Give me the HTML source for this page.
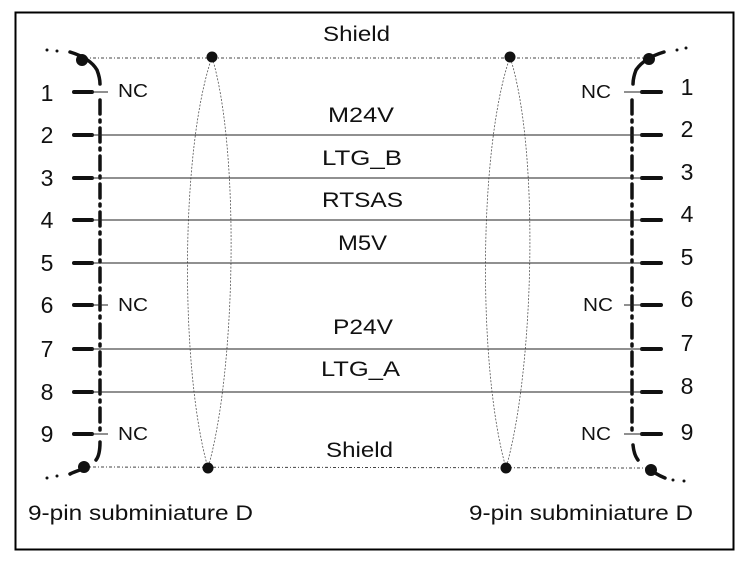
<!DOCTYPE html>
<html><head><style>
body{margin:0;background:#fff}
svg text{font-family:"Liberation Sans",Arial,sans-serif;fill:#111}
</style></head><body>
<svg width="752" height="561" viewBox="0 0 752 561" xmlns="http://www.w3.org/2000/svg">
<rect x="15.5" y="12.5" width="718" height="537" fill="none" stroke="#000" stroke-width="2"/>
<line x1="85" y1="58" x2="650" y2="58" stroke="#444" stroke-width="1" stroke-dasharray="3,2,1,2"/>
<line x1="85" y1="467" x2="650" y2="468" stroke="#444" stroke-width="1" stroke-dasharray="3,2,1,2"/>
<path d="M212,57 C180,150 180,370 208,468 C236,370 240,150 212,57Z" fill="none" stroke="#555" stroke-width="0.8" stroke-dasharray="2,1.5"/>
<path d="M510,57 C478,150 478,370 506,468 C534,370 540,150 510,57Z" fill="none" stroke="#555" stroke-width="0.8" stroke-dasharray="2,1.5"/>
<g fill="#111">
<circle cx="82" cy="60" r="6"/><circle cx="212" cy="57" r="5.5"/><circle cx="510" cy="57" r="5.5"/><circle cx="649" cy="59" r="6"/>
<circle cx="84" cy="467" r="6"/><circle cx="208" cy="468" r="5.5"/><circle cx="506" cy="468" r="5.5"/><circle cx="651" cy="470" r="6"/>
<circle cx="47" cy="50" r="1.5"/><circle cx="57" cy="51" r="1.5"/><circle cx="47" cy="478" r="1.5"/><circle cx="57" cy="476" r="1.5"/>
<circle cx="677" cy="50" r="1.5"/><circle cx="686" cy="48" r="1.5"/><circle cx="673" cy="480" r="1.5"/><circle cx="684" cy="481" r="1.5"/>
</g>
<g fill="none" stroke="#111" stroke-width="3.5" stroke-linecap="round">
<path d="M70,52 Q90,58 97,70 Q100,78 100,84"/>
<line x1="100" y1="100" x2="100" y2="430" stroke-dasharray="14,6,2,6"/>
<path d="M100,442 Q100,455 96,460 M80,470 Q74,472 70,474"/>
<path d="M664,52 Q644,58 636,70 Q633,78 633,84"/>
<line x1="632" y1="100" x2="632" y2="430" stroke-dasharray="14,6,2,6"/>
<path d="M633,445 Q634,455 638,460 M655,473 Q660,476 665,478"/>
</g>
<g stroke="#111" stroke-width="4" stroke-linecap="round">
<line x1="74" y1="92" x2="92" y2="92"/><line x1="74" y1="135" x2="92" y2="135"/><line x1="74" y1="178" x2="92" y2="178"/>
<line x1="74" y1="220" x2="92" y2="220"/><line x1="74" y1="263" x2="92" y2="263"/><line x1="74" y1="305" x2="92" y2="305"/>
<line x1="74" y1="349" x2="92" y2="349"/><line x1="74" y1="392" x2="92" y2="392"/><line x1="74" y1="434" x2="92" y2="434"/>
<line x1="642" y1="92" x2="661" y2="92"/><line x1="642" y1="135" x2="661" y2="135"/><line x1="642" y1="178" x2="661" y2="178"/>
<line x1="642" y1="220" x2="661" y2="220"/><line x1="642" y1="263" x2="661" y2="263"/><line x1="642" y1="305" x2="661" y2="305"/>
<line x1="642" y1="349" x2="661" y2="349"/><line x1="642" y1="392" x2="661" y2="392"/><line x1="642" y1="434" x2="661" y2="434"/>
</g>
<g stroke="#222" stroke-width="1">
<line x1="92" y1="135" x2="642" y2="135"/><line x1="92" y1="178" x2="642" y2="178"/><line x1="92" y1="220" x2="642" y2="220"/>
<line x1="92" y1="263" x2="642" y2="263"/><line x1="92" y1="349" x2="642" y2="349"/><line x1="92" y1="392" x2="642" y2="392"/>
<line x1="92" y1="92" x2="108" y2="92"/><line x1="92" y1="305" x2="108" y2="305"/><line x1="92" y1="434" x2="108" y2="434"/>
<line x1="624" y1="92" x2="642" y2="92"/><line x1="624" y1="305" x2="642" y2="305"/><line x1="624" y1="434" x2="642" y2="434"/>
</g>
<g font-size="23" text-anchor="middle">
<text x="47" y="101">1</text><text x="47" y="143">2</text><text x="47" y="186">3</text><text x="47" y="228">4</text><text x="47" y="271">5</text>
<text x="47" y="313">6</text><text x="47" y="357">7</text><text x="47" y="400">8</text><text x="47" y="442">9</text>
<text x="687" y="95">1</text><text x="687" y="137">2</text><text x="687" y="180">3</text><text x="687" y="222">4</text><text x="687" y="265">5</text>
<text x="687" y="307">6</text><text x="687" y="351">7</text><text x="687" y="394">8</text><text x="687" y="440">9</text>
</g>
<g font-size="18" lengthAdjust="spacingAndGlyphs">
<text x="118" y="97" textLength="30" lengthAdjust="spacingAndGlyphs">NC</text>
<text x="118" y="311" textLength="30" lengthAdjust="spacingAndGlyphs">NC</text>
<text x="118" y="440" textLength="30" lengthAdjust="spacingAndGlyphs">NC</text>
<text x="581" y="98" textLength="30" lengthAdjust="spacingAndGlyphs">NC</text>
<text x="583" y="311" textLength="30" lengthAdjust="spacingAndGlyphs">NC</text>
<text x="581" y="440" textLength="30" lengthAdjust="spacingAndGlyphs">NC</text>
</g>
<g font-size="21">
<text x="323" y="41" textLength="67" lengthAdjust="spacingAndGlyphs">Shield</text>
<text x="328" y="122" textLength="66" lengthAdjust="spacingAndGlyphs">M24V</text>
<text x="322" y="165" textLength="80" lengthAdjust="spacingAndGlyphs">LTG_B</text>
<text x="322" y="207" textLength="81" lengthAdjust="spacingAndGlyphs">RTSAS</text>
<text x="338" y="250" textLength="49" lengthAdjust="spacingAndGlyphs">M5V</text>
<text x="333" y="334" textLength="60" lengthAdjust="spacingAndGlyphs">P24V</text>
<text x="321" y="376" textLength="79" lengthAdjust="spacingAndGlyphs">LTG_A</text>
<text x="326" y="457" textLength="67" lengthAdjust="spacingAndGlyphs">Shield</text>
<text x="28" y="520" textLength="225" lengthAdjust="spacingAndGlyphs">9-pin subminiature D</text>
<text x="469" y="520" textLength="224" lengthAdjust="spacingAndGlyphs">9-pin subminiature D</text>
</g>
</svg>
</body></html>
